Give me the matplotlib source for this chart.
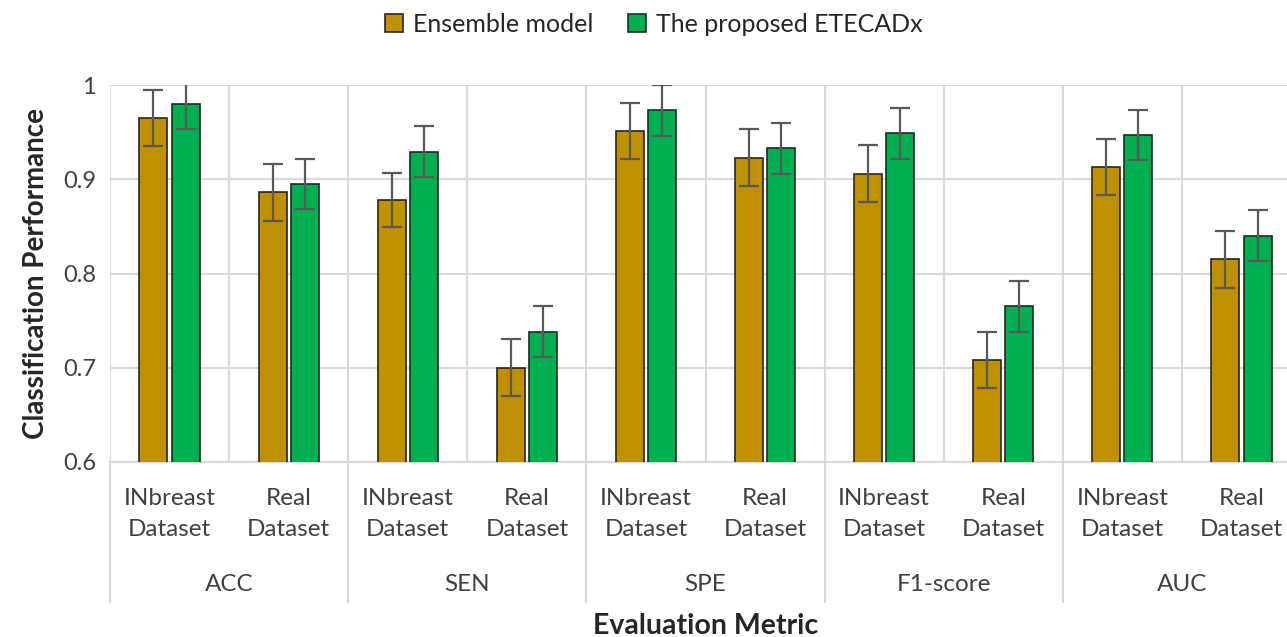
import numpy as np
import matplotlib
matplotlib.use("Agg")
import matplotlib.pyplot as plt
from matplotlib.ticker import FuncFormatter
from matplotlib.patches import Patch

plt.rcParams['font.family'] = ['Lato', 'DejaVu Sans']

# data
metrics = ['ACC', 'SEN', 'SPE', 'F1-score', 'AUC']
datasets = ['INbreast\nDataset', 'Real\nDataset']
series = ['Ensemble model', 'The proposed ETECADx']

ensemble = [0.965, 0.886, 0.878, 0.700, 0.951, 0.923, 0.906, 0.708, 0.913, 0.815]
ensemble_err = [0.030, 0.030, 0.029, 0.030, 0.030, 0.030, 0.030, 0.030, 0.030, 0.030]
proposed = [0.980, 0.895, 0.929, 0.738, 0.973, 0.933, 0.949, 0.765, 0.947, 0.840]
proposed_err = [0.027, 0.027, 0.027, 0.027, 0.027, 0.027, 0.027, 0.027, 0.027, 0.027]

colors = ['#BF9000', '#00B050']
grid_col = '#D9D9D9'
text_col = '#404040'

fig = plt.figure(figsize=(12.87, 6.37), dpi=100)
ax = fig.add_axes([110 / 1287, 1 - 462 / 637, 1191 / 1287, 377 / 637])

x = np.arange(len(ensemble))
w = 0.235
off = 0.135
ekw = dict(ecolor='#595959', elinewidth=1.6, capsize=7, capthick=1.6)
ax.bar(x - off, ensemble, w, color=colors[0], edgecolor='#262626',
       linewidth=1.2, yerr=ensemble_err, error_kw=ekw, zorder=3)
ax.bar(x + off, proposed, w, color=colors[1], edgecolor='#262626',
       linewidth=1.2, yerr=proposed_err, error_kw=ekw, zorder=3)

ax.set_ylim(0.6, 1.0)
ax.set_xlim(-0.5, len(x) - 0.5)
ax.set_yticks([0.6, 0.7, 0.8, 0.9, 1.0])
ax.yaxis.set_major_formatter(FuncFormatter(lambda v, p: '%g' % round(v, 2)))
ax.tick_params(axis='y', length=0, labelsize=17, labelcolor=text_col, pad=10)
ax.set_xticks([])
ax.grid(axis='y', color=grid_col, linewidth=1.5, zorder=0)
for b in np.arange(-0.5, len(x), 1.0):
    ax.axvline(b, color=grid_col, linewidth=1.5, zorder=0)
for s in ['top', 'right', 'left']:
    ax.spines[s].set_visible(False)
ax.spines['bottom'].set_color(grid_col)
ax.spines['bottom'].set_linewidth(1.5)

# multi-level category axis
tr = ax.get_xaxis_transform()
for i in range(len(x)):
    ax.text(i, -0.138, datasets[i % 2], transform=tr, ha='center', va='center',
            fontsize=17.5, color=text_col, linespacing=1.55)
for j, m in enumerate(metrics):
    ax.text(2 * j + 0.5, -0.326, m, transform=tr, ha='center', va='center',
            fontsize=17.5, color=text_col)
for b in np.arange(-0.5, len(x), 2.0):
    ax.plot([b, b], [0, -0.371], transform=tr, color=grid_col, linewidth=1.5,
            clip_on=False)

ax.set_ylabel('Classification Performance', fontsize=20, fontweight='bold',
              color='#262626', labelpad=10)
ax.text(0.5, -0.435, 'Evaluation Metric', transform=ax.transAxes, ha='center',
        va='center', fontsize=20.5, fontweight='bold', color='#262626')

handles = [Patch(facecolor=c, edgecolor='#262626', linewidth=1.2) for c in colors]
fig.legend(handles, series, loc='center', bbox_to_anchor=(0.508, 0.962), ncol=2,
           frameon=False, fontsize=18, handlelength=0.7, handleheight=0.7,
           handletextpad=0.4, columnspacing=1.4, labelcolor='#262626')

fig.savefig('out.png', dpi=100)
